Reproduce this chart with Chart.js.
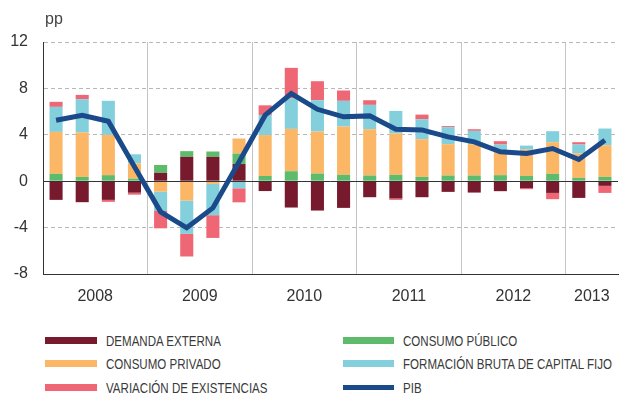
<!DOCTYPE html>
<html>
<head>
<meta charset="utf-8">
<script src="https://cdn.jsdelivr.net/npm/chart.js@4/dist/chart.umd.min.js"></script>
<style>
  html, body { margin: 0; padding: 0; background: #fff; }
  #wrap { position: relative; width: 619px; height: 394px; overflow: hidden; }
  #chart { position: absolute; left: 0; top: 0; }
  .item { position: absolute; height: 24px; }
  .sw { position: absolute; left: 0; }
  .tx { position: absolute; top: 0; white-space: nowrap; font-family: "Liberation Sans", Arial, sans-serif;
        font-size: 15px; line-height: 16px; color: #3a3a3a; transform: scaleX(0.77); transform-origin: 0 50%; }
</style>
</head>
<body>
<div id="wrap">
  <canvas id="chart" width="619" height="310"></canvas>
  <div id="legend"></div>
</div>
<script>
// Quarters, 2008 Q1 – 2013 Q2
const categories = [
  '2008-I','2008-II','2008-III','2008-IV',
  '2009-I','2009-II','2009-III','2009-IV',
  '2010-I','2010-II','2010-III','2010-IV',
  '2011-I','2011-II','2011-III','2011-IV',
  '2012-I','2012-II','2012-III','2012-IV',
  '2013-I','2013-II'
];

// Contributions to growth, percentage points
const demandaExterna = [-1.61, -1.81, -1.61, -0.99, 0.72, 2.10, 2.10, 1.48, -0.85, -2.27, -2.53, -2.30,
                        -1.38, -1.49, -1.38, -0.92, -0.98, -0.86, -0.60, -1.01, -1.44, -0.40];
const consumoPublico = [0.63, 0.37, 0.52, 0.22, 0.68, 0.49, 0.46, 0.90, 0.45, 0.86, 0.66, 0.55,
                        0.49, 0.55, 0.37, 0.49, 0.49, 0.52, 0.46, 0.63, 0.29, 0.37];
const consumoPrivado = [3.62, 3.83, 3.47, 1.32, -0.90, -1.67, -0.23, 1.30, 3.53, 3.65, 3.62, 4.16,
                        3.99, 3.56, 3.25, 2.70, 2.70, 2.07, 2.27, 2.73, 2.10, 2.73];
const fbcf =           [2.16, 2.87, 2.94, 0.78, -1.67, -2.87, -2.70, -0.61, 1.73, 2.62, 2.70, 2.22,
                        2.10, 1.95, 1.72, 1.47, 1.15, 0.57, 0.34, 0.95, 0.77, 1.44];
const existencias =    [0.43, 0.37, -0.17, -0.17, -1.49, -1.95, -1.96, -1.21, 0.83, 2.64, 1.64, 0.89,
                        0.40, -0.12, 0.40, 0.09, 0.14, 0.29, -0.09, -0.54, 0.20, -0.61];
const pib =            [5.26, 5.69, 5.17, 1.25, -2.64, -4.02, -2.30, 1.65, 5.69, 7.56, 6.20, 5.55,
                        5.63, 4.48, 4.42, 3.82, 3.39, 2.53, 2.39, 2.82, 1.87, 3.53];

const yTicks = [-8, -4, 0, 4, 8, 12];
const unitLabel = 'pp';

const FONT = '"Liberation Sans", Arial, sans-serif';
const yearOf = i => categories[i].split('-')[0];

// Year label sits between the two middle quarters of each year
const yearLabelAt = {};
(function () {
  let start = 0;
  for (let i = 1; i <= categories.length; i++) {
    if (i === categories.length || yearOf(i) !== yearOf(start)) {
      const n = i - start;
      yearLabelAt[start + Math.ceil(n / 2) - 1] = yearOf(start);
      start = i;
    }
  }
})();

const series = [
  { label: 'DEMANDA EXTERNA', data: demandaExterna, color: '#771a2d' },
  { label: 'CONSUMO PÚBLICO', data: consumoPublico, color: '#5dbb6b' },
  { label: 'CONSUMO PRIVADO', data: consumoPrivado, color: '#fbb766' },
  { label: 'FORMACIÓN BRUTA DE CAPITAL FIJO', data: fbcf, color: '#83d0dc' },
  { label: 'VARIACIÓN DE EXISTENCIAS', data: existencias, color: '#ef6674' }
];

const datasets = series.map(s => ({
  type: 'bar', label: s.label, data: s.data, backgroundColor: s.color,
  borderWidth: 0, order: 1, barPercentage: 0.5, categoryPercentage: 1
}));
datasets.push({
  type: 'line', label: 'PIB', data: pib, borderColor: '#1b4a8b', backgroundColor: '#1b4a8b',
  borderWidth: 5, pointRadius: 0, tension: 0, fill: false, order: 0, stack: 'pib'
});

const extras = {
  id: 'extras',
  beforeDatasetDraw(chart, args) {
    if (chart.data.datasets[args.index].type !== 'line') return;
    const { ctx, chartArea } = chart;
    const y = Math.round(chart.scales.y.getPixelForValue(0)) + 0.5;
    ctx.save();
    ctx.strokeStyle = '#333';
    ctx.lineWidth = 1;
    ctx.beginPath();
    ctx.moveTo(chartArea.left, y);
    ctx.lineTo(chartArea.right, y);
    ctx.stroke();
    ctx.restore();
  },
  afterDraw(chart) {
    const { ctx } = chart;
    ctx.save();
    ctx.fillStyle = '#444';
    ctx.font = '16px ' + FONT;
    ctx.textAlign = 'left';
    ctx.textBaseline = 'alphabetic';
    ctx.fillText(unitLabel, 45, 24);
    ctx.restore();
  }
};

new Chart(document.getElementById('chart'), {
  data: { labels: categories, datasets },
  plugins: [extras],
  options: {
    responsive: false,
    animation: false,
    devicePixelRatio: 1,
    layout: { padding: { left: 0, right: 1, top: 42, bottom: 0 } },
    plugins: { legend: { display: false }, tooltip: { enabled: false } },
    scales: {
      x: {
        stacked: true,
        offset: true,
        grid: {
          offset: true,
          drawTicks: false,
          lineWidth: 1,
          color: ctx => (ctx.index > 0 && ctx.index < categories.length &&
                         yearOf(ctx.index) !== yearOf(ctx.index - 1)) ? '#c4c4c4' : 'rgba(0,0,0,0)'
        },
        border: { display: true, color: '#333', width: 1 },
        ticks: {
          autoSkip: false, maxRotation: 0, minRotation: 0,
          padding: 13, labelOffset: 13,
          color: '#333', font: { family: FONT, size: 16 },
          callback: (v, i) => yearLabelAt[i] || ''
        },
        afterFit: s => { s.height = 36; }
      },
      y: {
        stacked: true,
        min: yTicks[0], max: yTicks[yTicks.length - 1],
        afterBuildTicks: s => { s.ticks = yTicks.map(v => ({ value: v })); },
        ticks: { padding: 15, color: '#333', font: { family: FONT, size: 16 } },
        grid: {
          drawTicks: false, lineWidth: 1,
          color: ctx => (ctx.tick && (ctx.tick.value === 0 || ctx.tick.value === yTicks[0])) ? 'rgba(0,0,0,0)' : '#b8b8b8'
        },
        border: { display: true, color: '#333', width: 1, dash: [4, 3] },
        afterFit: s => { s.width = 43; }
      }
    }
  }
});

// Legend: two columns, filled row by row
const legendItems = series.map(s => ({ label: s.label, color: s.color, h: 7 }))
  .concat([{ label: 'PIB', color: '#1b4a8b', h: 5 }]);
const colX = [45, 343];
const swW = [52, 51];
const rowY = [333, 355.5, 379.5];
const legend = document.getElementById('legend');
const order = [0, 1, 2, 3, 4, 5];
order.forEach((k, n) => {
  const it = legendItems[k];
  const col = n % 2, row = Math.floor(n / 2);
  const d = document.createElement('div');
  d.className = 'item';
  d.style.left = colX[col] + 'px';
  d.style.top = rowY[row] + 'px';
  const sw = document.createElement('div');
  sw.className = 'sw';
  sw.style.width = swW[col] + 'px';
  sw.style.height = it.h + 'px';
  sw.style.top = (7.5 - it.h / 2) + 'px';
  sw.style.background = it.color;
  const tx = document.createElement('div');
  tx.className = 'tx';
  tx.style.left = (61 - (col ? 1 : 0)) + 'px';
  tx.textContent = it.label;
  d.appendChild(sw);
  d.appendChild(tx);
  legend.appendChild(d);
});
</script>
</body>
</html>
